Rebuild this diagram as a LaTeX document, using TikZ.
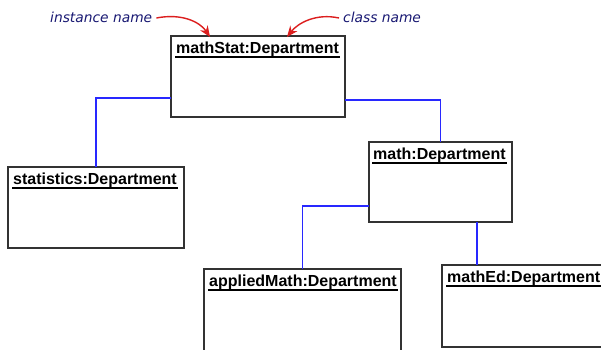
\documentclass[tikz,border=0pt]{standalone}
\usepackage{fontspec}
\setmainfont{Liberation Sans}
\newfontfamily\notefont{DejaVu Sans}
\usetikzlibrary{arrows.meta,calc}
\definecolor{boxline}{RGB}{50,50,50}
\definecolor{connblue}{RGB}{40,40,255}
\definecolor{notenavy}{RGB}{25,25,115}
\definecolor{arrowred}{RGB}{220,30,30}
\tikzset{
  objbox/.style={draw=boxline, line width=1.3pt, fill=white, anchor=north west, inner sep=0pt, outer sep=0pt},
  objtitle/.style={anchor=base west, inner sep=0pt, font=\fontsize{16}{17}\selectfont\bfseries},
  ul/.style={draw=black, line width=1.2pt},
  conn/.style={draw=connblue, line width=1.4pt},
  note/.style={anchor=base west, inner sep=0pt, text=notenavy, font=\notefont\itshape\fontsize{13.8}{15}\selectfont},
  pointer/.style={draw=arrowred, line width=1.4pt, -{Stealth[length=11pt,width=9pt]}}
}
\begin{document}
\begin{tikzpicture}[x=1pt,y=-1pt]
\useasboundingbox[fill=white] (0,0) rectangle (601,349);
\clip (0,0) rectangle (601,349);
% boxes
\node[objbox, minimum width=174pt, minimum height=81pt] (ms) at (171,36) {};
\node[objbox, minimum width=176pt, minimum height=81pt] (stat) at (8,167) {};
\node[objbox, minimum width=143pt, minimum height=80pt] (math) at (369,142) {};
\node[objbox, minimum width=197pt, minimum height=95pt] (app) at (204,269) {};
\node[objbox, minimum width=180pt, minimum height=82pt] (ed) at (442,265) {};
% titles
\node[objtitle] (msT) at ($(ms.north west)+(5,17)$) {mathStat:Department};
\node[objtitle] (statT) at ($(stat.north west)+(5,17)$) {statistics:Department};
\node[objtitle] (mathT) at ($(math.north west)+(4,17)$) {math:Department};
\node[objtitle] (appT) at ($(app.north west)+(5,17)$) {appliedMath:Department};
\node[objtitle] (edT) at ($(ed.north west)+(5,17)$) {mathEd:Department};
\foreach \t in {msT,statT,mathT,appT,edT}{
  \draw[ul] ([xshift=-1pt,yshift=-4pt]\t.base west) -- ([xshift=1pt,yshift=-4pt]\t.base east);
}
% connectors
\draw[conn] ([yshift=19pt]ms.south west) -| (stat.north);
\draw[conn] ([yshift=17pt]ms.south east) -| (math.north);
\draw[conn] ([yshift=16pt]math.south west) -| (app.north);
\draw[conn] ([xshift=-35pt]math.south east) -- ([xshift=-35pt]math.south east |- ed.north);
% notes
\node[note] (inst) at (50,22) {instance name};
\node[note] (cls) at (343,22) {class name};
\coordinate (instTip) at (210,37);
\coordinate (clsTip) at (287,37);
\draw[pointer] ([xshift=4pt,yshift=4pt]inst.base east) .. controls (182,13) and (200,22) .. (instTip);
\draw[pointer] ([xshift=-4pt,yshift=4pt]cls.base west) .. controls (316,13) and (298,23) .. (clsTip);
\end{tikzpicture}
\end{document}
